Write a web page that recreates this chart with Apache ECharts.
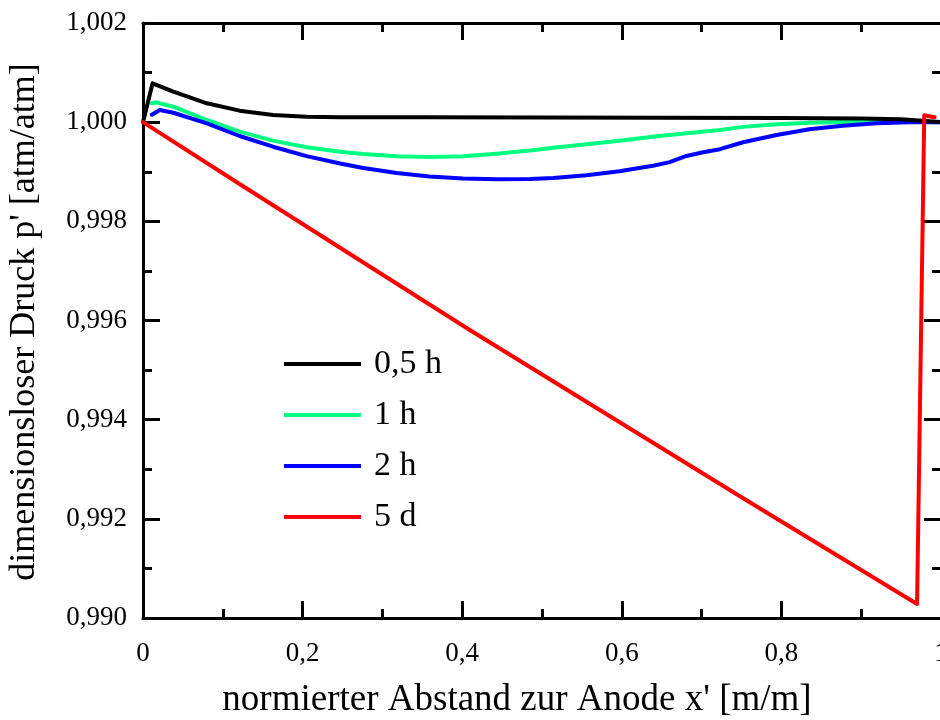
<!DOCTYPE html>
<html>
<head>
<meta charset="utf-8">
<script src="https://cdn.jsdelivr.net/npm/echarts@6/dist/echarts.min.js"></script>
<style>
  html, body { margin: 0; padding: 0; background: #fff; }
  #chart { width: 940px; height: 720px; }
</style>
</head>
<body>
<div id="chart"></div>
<script>
// Pressure profiles along the normalised distance to the anode
const seriesNames = ['0,5 h', '1 h', '2 h', '5 d'];

const xHalfHour = [0, 0.012, 0.038, 0.080, 0.121, 0.163, 0.205, 0.247, 0.35, 0.5, 0.65, 0.8, 0.9, 0.95, 0.977, 1.0];
const pHalfHour = [1.0, 1.000784, 1.000614, 1.00038, 1.000232, 1.000145, 1.000111, 1.0001, 1.000098, 1.000095, 1.00009, 1.000082, 1.000075, 1.00006, 1.00003, 1.0];

const xOneHour = [0.011, 0.017, 0.038, 0.080, 0.121, 0.163, 0.205, 0.247, 0.276, 0.318, 0.359, 0.401, 0.443, 0.485, 0.514, 0.556, 0.597, 0.639, 0.681, 0.723, 0.752, 0.794, 0.835, 0.877, 0.92, 0.96, 1.0];
const pOneHour = [1.00038, 1.0004, 1.000312, 1.000044, 0.999808, 0.999627, 0.999493, 0.999404, 0.999358, 0.999314, 0.999295, 0.999315, 0.999365, 0.99943, 0.999486, 0.999553, 0.999627, 0.999708, 0.999775, 0.999842, 0.999905, 0.99996, 0.99999, 1.000005, 1.00001, 1.000008, 1.0];

const xTwoHours = [0.011, 0.021, 0.038, 0.080, 0.121, 0.163, 0.205, 0.247, 0.276, 0.318, 0.359, 0.401, 0.443, 0.485, 0.514, 0.556, 0.597, 0.639, 0.660, 0.681, 0.702, 0.723, 0.752, 0.794, 0.835, 0.877, 0.919, 0.960, 1.0];
const pTwoHours = [1.00015, 1.000245, 1.00019, 0.999977, 0.999721, 0.999505, 0.999315, 0.999165, 0.999075, 0.998975, 0.998905, 0.998862, 0.998848, 0.998852, 0.998875, 0.998928, 0.999012, 0.999122, 0.999195, 0.999318, 0.999392, 0.999455, 0.999595, 0.999742, 0.999856, 0.99993, 0.999978, 0.999998, 1.0];

const xFiveDays = [0, 0.121, 0.4095, 0.7557, 0.970, 0.979, 0.992];
const pFiveDays = [1.0, 0.998753, 0.995808, 0.99238, 0.990282, 1.00014, 1.0001];

const xTicks = { min: 0, max: 1, step: 0.2 };
const yTicks = { min: 0.990, max: 1.002, step: 0.002 };

const pairs = (xs, ys) => xs.map((x, i) => [x, ys[i]]);

const FONT = "'Liberation Serif', 'Times New Roman', serif";
const chart = echarts.init(document.getElementById('chart'), null, { renderer: 'canvas' });

const frameLine = { show: true, onZero: false, lineStyle: { color: '#000', width: 3 } };
const majorTick = { show: true, inside: true, length: 17, lineStyle: { color: '#000', width: 3 } };
const minorTick = { show: true, splitNumber: 2, length: 9, lineStyle: { color: '#000', width: 3 } };

const xFmt = v => (v === 0 || v === 1) ? String(v) : v.toFixed(1).replace('.', ',');
const yFmt = v => v.toFixed(3).replace('.', ',');

function xAxisDef(pos, labels) {
  return {
    type: 'value', position: pos, min: xTicks.min, max: xTicks.max, interval: xTicks.step,
    axisLine: frameLine, axisTick: majorTick, minorTick: minorTick,
    splitLine: { show: false }, minorSplitLine: { show: false },
    axisLabel: { show: labels, margin: 22, fontFamily: FONT, fontSize: 27, color: '#000', formatter: xFmt }
  };
}
function yAxisDef(pos, labels) {
  return {
    type: 'value', position: pos, min: yTicks.min, max: yTicks.max, interval: yTicks.step,
    axisLine: frameLine, axisTick: majorTick, minorTick: minorTick,
    splitLine: { show: false }, minorSplitLine: { show: false },
    axisLabel: { show: labels, margin: 16, fontFamily: FONT, fontSize: 27, color: '#000', formatter: yFmt }
  };
}

function lineSeries(name, data, color, z) {
  return {
    name: name, type: 'line', data: data, xAxisIndex: 0, yAxisIndex: 0,
    showSymbol: false, symbol: 'none', smooth: false, z: z,
    lineStyle: { color: color, width: 4, join: 'round', cap: 'round' },
    itemStyle: { color: color },
    animation: false
  };
}

chart.setOption({
  backgroundColor: '#fff',
  animation: false,
  grid: { left: 143, top: 23, width: 798, height: 595, containLabel: false, outerBoundsMode: 'none' },
  xAxis: [xAxisDef('bottom', true), xAxisDef('top', false)],
  yAxis: [yAxisDef('left', true), yAxisDef('right', false)],
  legend: {
    data: seriesNames,
    orient: 'vertical',
    left: 279, top: 342,
    icon: 'rect',
    itemWidth: 77, itemHeight: 4, itemGap: 17,
    textStyle: { fontFamily: FONT, fontSize: 34, color: '#000', lineHeight: 34, padding: [0, 0, 0, 8] }
  },
  graphic: [
    {
      type: 'text',
      style: { text: "normierter Abstand zur Anode x' [m/m]", x: 517, y: 700,
        align: 'center', verticalAlign: 'middle', font: "37px " + FONT, fill: '#000' }
    },
    {
      type: 'text', x: 25, y: 322, rotation: Math.PI / 2,
      style: { text: "dimensionsloser Druck p' [atm/atm]",
        align: 'center', verticalAlign: 'middle', font: "36px " + FONT, fill: '#000' }
    }
  ],
  series: [
    lineSeries(seriesNames[0], pairs(xHalfHour, pHalfHour), '#000000', 4),
    lineSeries(seriesNames[1], pairs(xOneHour, pOneHour), '#00FF80', 2),
    lineSeries(seriesNames[2], pairs(xTwoHours, pTwoHours), '#0000FF', 3),
    lineSeries(seriesNames[3], pairs(xFiveDays, pFiveDays), '#FF0000', 5)
  ]
});
</script>
</body>
</html>
